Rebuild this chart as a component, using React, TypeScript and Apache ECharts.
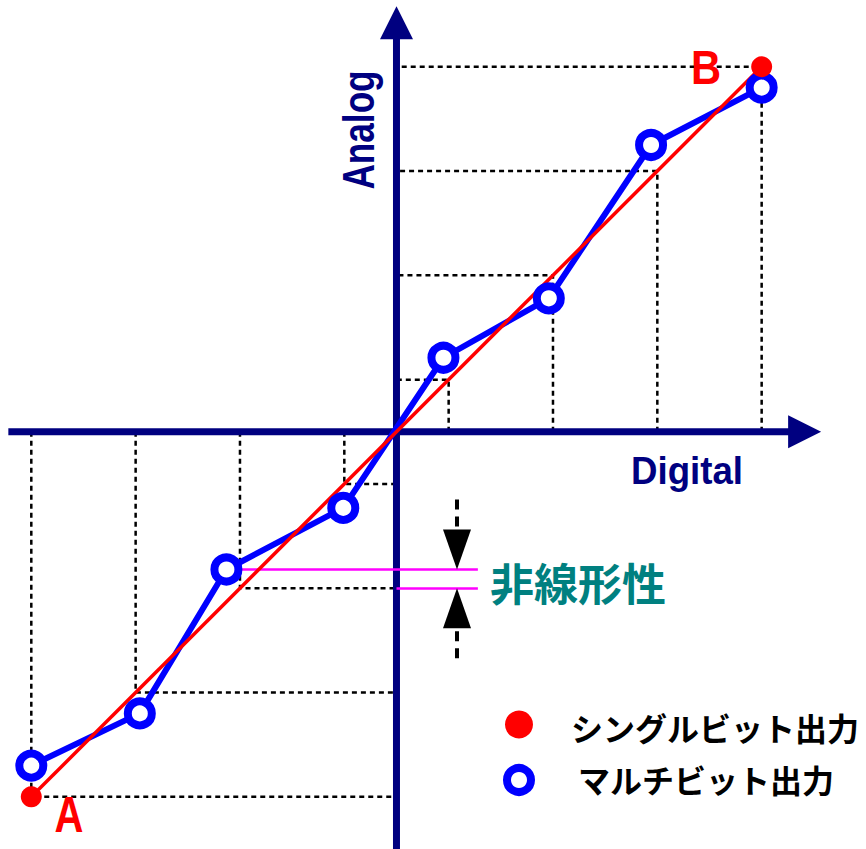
import React, { useEffect, useRef } from "react";
import * as echarts from "echarts";

// ---- data ----
const idealLevels = [-3.5, -2.5, -1.5, -0.5, 0.5, 1.5, 2.5, 3.5];
const multiX = [-3.5, -2.46, -1.63, -0.51, 0.45, 1.46, 2.44, 3.5];
const multiY = [-3.2, -2.7, -1.32, -0.73, 0.71, 1.28, 2.75, 3.3];
const singleEnds = [
  [-3.5, -3.5],
  [3.5, 3.5],
];
const axisXRange = [-3.72, 4.07];
const axisYRange = [-4.0, 4.08];
const nonlinIndex = 2;
const nonlinArrowX = 0.58;
const nonlinLineEnd = 0.78;

const NAVY = "#000080";
const LATIN = '"Liberation Sans", Arial, sans-serif';
const CJK = '"Noto Sans CJK JP", sans-serif';

export default function App() {
  const ref = useRef<HTMLDivElement>(null);
  useEffect(() => {
    if (!ref.current) return;
    const chart = echarts.init(ref.current, null, { renderer: "svg" });
    const multiData = multiX.map((x, i) => [x, multiY[i]]);
    const guideData = idealLevels.map((v) => ({
      coords: [
        [v, 0],
        [v, v],
        [0, v],
      ],
    }));
    const nonlinTop = multiY[nonlinIndex];
    const nonlinBot = idealLevels[nonlinIndex];

    const text = (
      t: string,
      x: number,
      y: number,
      size: number,
      color: string,
      family: string,
      align: string,
      extra: any = {}
    ) => ({
      type: "text",
      x,
      y,
      z: 100,
      ...extra,
      style: {
        text: t,
        fontSize: size,
        fontWeight: "bold",
        fontFamily: family,
        fill: color,
        textAlign: align,
        textVerticalAlign: "middle",
        align: align,
        verticalAlign: "middle",
      },
    });

    chart.setOption({
      animation: false,
      backgroundColor: "#ffffff",
      grid: { left: 0, right: 0, top: 0, bottom: 0, containLabel: false },
      xAxis: { type: "value", min: -3.8, max: 4.5, show: false },
      yAxis: { type: "value", min: -4.0, max: 4.14, show: false },
      series: [
        {
          type: "lines",
          coordinateSystem: "cartesian2d",
          polyline: true,
          z: 1,
          silent: true,
          lineStyle: { color: "#000", width: 2.5, type: [5, 4], opacity: 1 },
          data: guideData,
        },
        {
          type: "custom",
          z: 2,
          silent: true,
          data: [
            [axisXRange[0], 0, axisXRange[1], 0],
            [0, axisYRange[0], 0, axisYRange[1]],
          ],
          encode: { x: [0, 2], y: [1, 3] },
          renderItem: (params: any, api: any) => {
            const p1 = api.coord([api.value(0), api.value(1)]);
            const p2 = api.coord([api.value(2), api.value(3)]);
            const dx = p2[0] - p1[0];
            const dy = p2[1] - p1[1];
            const len = Math.hypot(dx, dy);
            const ux = dx / len;
            const uy = dy / len;
            const L = 33;
            const W = 16.5;
            const bx = p2[0] - ux * L;
            const by = p2[1] - uy * L;
            const nx = -uy;
            const ny = ux;
            return {
              type: "group",
              children: [
                {
                  type: "line",
                  shape: { x1: p1[0], y1: p1[1], x2: bx + ux, y2: by + uy },
                  style: { stroke: NAVY, lineWidth: 7 },
                },
                {
                  type: "polygon",
                  shape: {
                    points: [
                      [p2[0], p2[1]],
                      [bx + nx * W, by + ny * W],
                      [bx - nx * W, by - ny * W],
                    ],
                  },
                  style: { fill: NAVY },
                },
              ],
            };
          },
        },
        {
          type: "lines",
          coordinateSystem: "cartesian2d",
          z: 3,
          silent: true,
          lineStyle: { color: "#ff00ff", width: 2.5, opacity: 1 },
          data: [
            {
              coords: [
                [multiX[nonlinIndex], nonlinTop],
                [nonlinLineEnd, nonlinTop],
              ],
            },
            {
              coords: [
                [0, nonlinBot],
                [nonlinLineEnd, nonlinBot],
              ],
            },
          ],
        },
        {
          type: "custom",
          z: 3,
          silent: true,
          data: [[nonlinArrowX, nonlinTop, nonlinBot]],
          encode: { x: 0, y: [1, 2] },
          renderItem: (params: any, api: any) => {
            const t = api.coord([api.value(0), api.value(1)]);
            const b = api.coord([api.value(0), api.value(2)]);
            const x = t[0];
            const H = 40;
            const W = 14;
            const dash = { stroke: "#000", lineWidth: 4, lineDash: [10, 7] };
            return {
              type: "group",
              children: [
                {
                  type: "polygon",
                  shape: { points: [[x, t[1]], [x - W, t[1] - H], [x + W, t[1] - H]] },
                  style: { fill: "#000" },
                },
                {
                  type: "line",
                  shape: { x1: x, y1: t[1] - H - 3, x2: x, y2: t[1] - H - 34 },
                  style: dash,
                },
                {
                  type: "polygon",
                  shape: { points: [[x, b[1]], [x - W, b[1] + H], [x + W, b[1] + H]] },
                  style: { fill: "#000" },
                },
                {
                  type: "line",
                  shape: { x1: x, y1: b[1] + H + 3, x2: x, y2: b[1] + H + 34 },
                  style: dash,
                },
              ],
            };
          },
        },
        {
          type: "line",
          z: 4,
          silent: true,
          symbol: "none",
          data: multiData,
          lineStyle: { color: "#0000ff", width: 6 },
        },
        {
          type: "line",
          z: 5,
          silent: true,
          symbol: "none",
          data: singleEnds,
          lineStyle: { color: "#ff0000", width: 3.5 },
        },
        {
          type: "scatter",
          z: 6,
          silent: true,
          symbol: "circle",
          symbolSize: 24,
          data: multiData,
          itemStyle: { color: "#ffffff", borderColor: "#0000ff", borderWidth: 8, opacity: 1 },
        },
        {
          type: "scatter",
          z: 7,
          silent: true,
          symbol: "circle",
          symbolSize: 21,
          data: singleEnds,
          itemStyle: { color: "#ff0000", opacity: 1 },
        },
      ],
      graphic: [
        text("Analog", 359, 130, 44, NAVY, LATIN, "center", { rotation: Math.PI / 2, scaleX: 0.8 }),
        text("Digital", 687, 471, 39, NAVY, LATIN, "center", { scaleX: 0.94 }),
        text("非線形性", 490, 582, 44, "#008080", CJK, "left"),
        text("A", 69, 815, 50, "#ff0000", LATIN, "center", { scaleX: 0.8 }),
        text("B", 706, 67, 49, "#ff0000", LATIN, "center", { scaleX: 0.85 }),
        {
          type: "circle",
          z: 100,
          shape: { cx: 519, cy: 724.5, r: 14 },
          style: { fill: "#ff0000" },
        },
        {
          type: "circle",
          z: 100,
          shape: { cx: 519, cy: 780, r: 12 },
          style: { fill: "#ffffff", stroke: "#0000ff", lineWidth: 8 },
        },
        text("シングルビット出力", 571, 727, 32, "#000", CJK, "left"),
        text("マルチビット出力", 578, 779, 32, "#000", CJK, "left"),
      ],
    });
    return () => chart.dispose();
  }, []);
  return (
    <div
      ref={ref}
      style={{ position: "absolute", left: 0, top: 0, width: 866, height: 849 }}
    />
  );
}
